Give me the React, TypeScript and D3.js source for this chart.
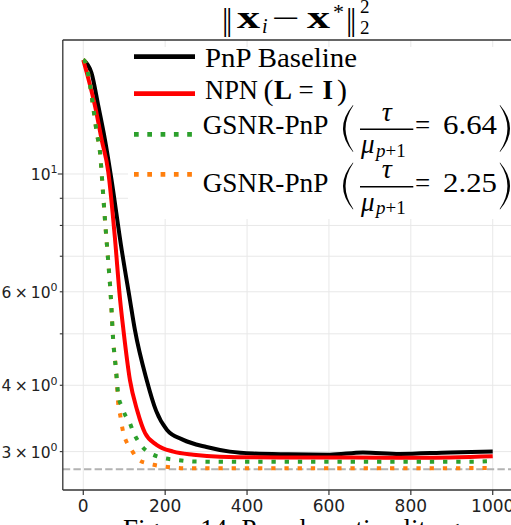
import React from 'react';
import * as d3 from 'd3';

const W = 511;
const H = 525;

// ---- data ----
const xTicks = [0, 200, 400, 600, 800, 1000];
const yGridValues = [3, 4, 5, 6, 7, 8, 9, 10];
const yLabelValues = [3, 4, 6, 10];
const yLabelMantissa = ['3', '4', '6', ''];
const yLabelExponent = ['0', '0', '0', '1'];
const refLevel = 2.78;

const pnpIters = [0, 20, 37, 53, 69, 92, 114, 126, 155, 178, 204, 243, 301, 358, 415, 500, 602, 683, 773, 896, 1000];
const pnpVals = [16.4, 15.5, 13.4, 11.6, 9.75, 7.35, 5.79, 5.09, 4.09, 3.58, 3.3, 3.16, 3.06, 3.0, 2.975, 2.965, 2.96, 2.99, 2.97, 2.99, 3.0];

const npnIters = [0, 29, 45, 61, 77, 90, 98, 114, 132, 151, 179, 220, 269, 334, 480, 651, 822, 1000];
const npnVals = [16.4, 13.4, 11.6, 10.1, 7.62, 5.79, 5.09, 4.09, 3.58, 3.25, 3.09, 3.0, 2.96, 2.935, 2.925, 2.925, 2.92, 2.94];

const gsnrAIters = [0, 4, 16, 24, 33, 41, 45, 53, 60, 67, 73, 80, 86, 94, 102, 114, 122, 143, 163, 183, 228, 277, 400, 600, 800, 950, 1000];
const gsnrAVals = [16.4, 16.3, 14.8, 13.4, 11.95, 10.96, 10.0, 8.2, 6.99, 5.92, 4.87, 4.27, 3.81, 3.65, 3.52, 3.39, 3.27, 3.07, 2.98, 2.935, 2.894, 2.873, 2.87, 2.87, 2.87, 2.87, 2.88];

const gsnrBIters = [0, 4, 16, 24, 33, 41, 45, 53, 60, 67, 73, 80, 86, 90, 94, 98, 104, 118, 134, 155, 175, 200, 220, 260, 400, 600, 800, 1000];
const gsnrBVals = [16.4, 16.3, 14.8, 13.4, 11.95, 10.96, 10.0, 8.2, 6.99, 5.92, 4.87, 4.27, 3.65, 3.52, 3.37, 3.25, 3.15, 3.02, 2.9, 2.853, 2.83, 2.81, 2.8, 2.79, 2.79, 2.79, 2.79, 2.795];

const legendLabels = ['PnP Baseline', 'NPN', 'GSNR-PnP', 'GSNR-PnP'];
const ratioLabels = ['6.64', '2.25'];
const captionText = 'Figure 14: Pseudo-optimality gap';

const serif = "'Liberation Serif', 'DejaVu Serif', serif";
const sans = "'DejaVu Sans', sans-serif";

function zip(a: number[], b: number[]): [number, number][] {
  return a.map((v, i) => [v, b[i]]);
}

function LeftParen({ xr, xl, yt, yb }: { xr: number; xl: number; yt: number; yb: number }) {
  const ym = (yt + yb) / 2;
  const outer = xr - 2 * (xr - xl);
  const inner = xr - 2 * (xr - xl - 2.4);
  return <path d={`M${xr},${yt} Q${outer},${ym} ${xr},${yb} L${xr + 0.3},${yb - 0.5} Q${inner},${ym} ${xr + 0.3},${yt + 0.5} Z`} fill="#000" />;
}
function RightParen({ xl, xr, yt, yb }: { xl: number; xr: number; yt: number; yb: number }) {
  const ym = (yt + yb) / 2;
  const outer = xl + 2 * (xr - xl);
  const inner = xl + 2 * (xr - xl - 2.4);
  return <path d={`M${xl},${yt} Q${outer},${ym} ${xl},${yb} L${xl - 0.3},${yb - 0.5} Q${inner},${ym} ${xl - 0.3},${yt + 0.5} Z`} fill="#000" />;
}

export default function App() {
  const left = 62.8, right = 513.2, top = 40, bottom = 490;
  const x = d3.scaleLinear().domain([-50, 1050]).range([left, right]);
  const y = d3.scaleLog().domain([2.54, 17.88]).range([bottom, top]);
  const line = d3
    .line<[number, number]>()
    .x((d) => x(d[0]))
    .y((d) => y(d[1]))
    .curve(d3.curveMonotoneX);

  const series = [
    { d: zip(pnpIters, pnpVals), color: '#000000', dash: undefined as string | undefined },
    { d: zip(npnIters, npnVals), color: '#ff0000', dash: undefined },
    { d: zip(gsnrBIters, gsnrBVals), color: '#ff7f0e', dash: '4.3 8.9' },
    { d: zip(gsnrAIters, gsnrAVals), color: '#2ca02c', dash: '4.3 8.9' },
  ];

  const legendY = [56.7, 93.7, 134.3, 174.3];
  const legendColors = ['#000000', '#ff0000', '#2ca02c', '#ff7f0e'];
  const legendDash = [undefined, undefined, '4.7 8.6', '4.7 8.6'];
  const rowOffsets = [0, 57.4];

  return (
    <svg width={W} height={H} style={{ position: 'absolute', left: 0, top: 0, background: '#fff' }}>
      <defs>
        <clipPath id="plotClip">
          <rect x={left} y={top} width={W - left} height={bottom - top} />
        </clipPath>
      </defs>
      <rect x={0} y={0} width={W} height={H} fill="#fff" />

      {/* grid */}
      {xTicks.map((t) => (
        <line key={'gx' + t} x1={x(t)} x2={x(t)} y1={top} y2={bottom} stroke="#e8e8e8" strokeWidth={1} />
      ))}
      {yGridValues.map((t) => (
        <line key={'gy' + t} x1={left} x2={W} y1={y(t)} y2={y(t)} stroke="#e8e8e8" strokeWidth={1} />
      ))}

      {/* reference dashed line */}
      <line x1={left} x2={W} y1={y(refLevel)} y2={y(refLevel)} stroke="#b3b3b3" strokeWidth={2} strokeDasharray="7.4 3.2" />

      {/* series */}
      <g clipPath="url(#plotClip)">
        {series.map((s, i) => (
          <path key={i} d={line(s.d) || ''} fill="none" stroke={s.color} strokeWidth={4} strokeDasharray={s.dash} />
        ))}
      </g>

      {/* spines */}
      <line x1={left} x2={left} y1={top} y2={bottom} stroke="#333" strokeWidth={1.3} />
      <line x1={left} x2={W} y1={bottom} y2={bottom} stroke="#333" strokeWidth={1.3} />
      <line x1={left} x2={W} y1={top} y2={top} stroke="#333" strokeWidth={1.3} />

      {/* x ticks */}
      {xTicks.map((t) => (
        <g key={'xt' + t}>
          <line x1={x(t)} x2={x(t)} y1={bottom} y2={bottom + 5} stroke="#333" strokeWidth={1.2} />
          <text x={x(t)} y={511.7} textAnchor="middle" fontFamily={sans} fontSize={17} fill="#222">
            {t}
          </text>
        </g>
      ))}

      {/* y ticks */}
      {yGridValues.map((t) => {
        const major = t === 10;
        return <line key={'yt' + t} x1={left - (major ? 5 : 3)} x2={left} y1={y(t)} y2={y(t)} stroke="#333" strokeWidth={1.1} />;
      })}
      {yLabelValues.map((t, i) => (
        <text key={'yl' + t} x={50.5} y={y(t) + 6} textAnchor="end" fontFamily={sans} fontSize={15.5} fill="#222">
          {yLabelMantissa[i] ? (
            <>
              {yLabelMantissa[i]}
              <tspan dx={3.5}>×</tspan>
              <tspan dx={3}>10</tspan>
            </>
          ) : (
            '10'
          )}
        </text>
      ))}
      {yLabelValues.map((t, i) => (
        <text key={'ye' + t} x={50.5} y={y(t) - 0.5} fontFamily={sans} fontSize={11} fill="#222">
          {yLabelExponent[i]}
        </text>
      ))}

      {/* title */}
      <g fontFamily={serif} fill="#000">
        <text x={222} y={30} fontSize={32} letterSpacing={-2.5}>||</text>
        <text x={237} y={28.3} fontSize={32} fontWeight="bold" textLength={23} lengthAdjust="spacingAndGlyphs">x</text>
        <text x={262} y={33} fontSize={20} fontStyle="italic">i</text>
        <text x={272} y={28.3} fontSize={30} textLength={28} lengthAdjust="spacingAndGlyphs">−</text>
        <text x={307} y={28.3} fontSize={32} fontWeight="bold" textLength={23} lengthAdjust="spacingAndGlyphs">x</text>
        <text x={333} y={19} fontSize={22}>*</text>
        <text x={346} y={30} fontSize={32} letterSpacing={-2.5}>||</text>
        <text x={360} y={13} fontSize={19}>2</text>
        <text x={360} y={34} fontSize={19}>2</text>
      </g>

      {/* legend */}
      <rect x={128} y={47} width={W - 128} height={172} fill="#fff" />
      {legendY.map((ly, i) => (
        <line key={'ll' + i} x1={134} x2={195} y1={ly} y2={ly} stroke={legendColors[i]} strokeWidth={4.7} strokeDasharray={legendDash[i]} />
      ))}
      <g fontFamily={serif} fill="#000" fontSize={27}>
        <text x={205} y={67.3} textLength={152} lengthAdjust="spacingAndGlyphs">{legendLabels[0]}</text>
        <text x={205} y={99.3} textLength={53} lengthAdjust="spacingAndGlyphs">{legendLabels[1]}</text>
        <text x={263.5} y={100} fontSize={30}>(</text>
        <text x={274} y={99.3} fontWeight="bold">L</text>
        <text x={298.5} y={99.3}>=</text>
        <text x={322.5} y={99.3} fontWeight="bold">I</text>
        <text x={337} y={100} fontSize={30}>)</text>
        {rowOffsets.map((o, r) => (
          <g key={'gr' + r}>
            <text x={202.7} y={134.3 + o} textLength={125.6} lengthAdjust="spacingAndGlyphs">{legendLabels[2 + r]}</text>
            <LeftParen xr={353} xl={343} yt={105 + o} yb={152 + o} />
            <line x1={360} x2={413.3} y1={129.3 + o} y2={129.3 + o} stroke="#000" strokeWidth={1.5} />
            <text x={386.7} y={120.5 + o} textAnchor="middle" fontStyle="italic" fontSize={28}>τ</text>
            <text x={361} y={153.3 + o} fontStyle="italic">μ</text>
            <text x={376} y={156.5 + o} fontSize={19}>
              <tspan fontStyle="italic">p</tspan>+1
            </text>
            <text x={415} y={134.3 + o}>=</text>
            <text x={443} y={134.3 + o} textLength={54} lengthAdjust="spacingAndGlyphs">{ratioLabels[r]}</text>
            <RightParen xl={500} xr={510} yt={105 + o} yb={152 + o} />
          </g>
        ))}
      </g>

      {/* caption (cut off at the bottom) */}
      <text x={123} y={538} fontFamily={serif} fontSize={27} fill="#000">
        {captionText}
      </text>
    </svg>
  );
}
